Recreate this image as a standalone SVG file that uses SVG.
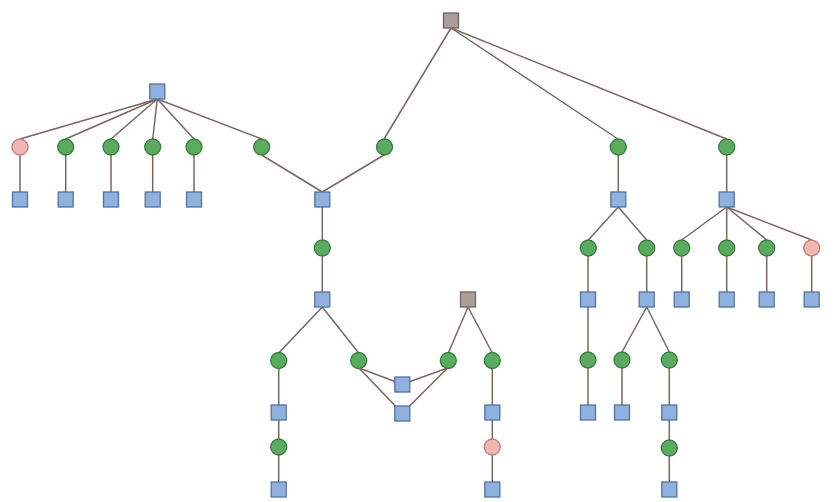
<svg xmlns="http://www.w3.org/2000/svg" width="834" height="502" viewBox="0 0 834 502">
<style>
.e{stroke:#7a6660;stroke-width:1.5;fill:none}
.sq{fill:#8eb1df;stroke:#56729a;stroke-width:1.3}
.gs{fill:#a89f9b;stroke:#6f6460;stroke-width:1.3}
.g{fill:#5aab5e;stroke:#3a7a40;stroke-width:1.3}
.p{fill:#f1b5b3;stroke:#b8807c;stroke-width:1.3}
</style>
<rect width="834" height="502" fill="#ffffff"/>
<g id="connectors">
<line class="e" x1="451" y1="28" x2="384" y2="139"/>
<line class="e" x1="451" y1="28" x2="618" y2="139"/>
<line class="e" x1="451" y1="28" x2="726.7" y2="139"/>
<line class="e" x1="157.3" y1="99" x2="20" y2="139"/>
<line class="e" x1="157.3" y1="99" x2="65.7" y2="139"/>
<line class="e" x1="157.3" y1="99" x2="111" y2="139"/>
<line class="e" x1="157.3" y1="99" x2="152.7" y2="139"/>
<line class="e" x1="157.3" y1="99" x2="194" y2="139"/>
<line class="e" x1="157.3" y1="99" x2="261.7" y2="139"/>
<line class="e" x1="20" y1="155" x2="20" y2="192"/>
<line class="e" x1="65.7" y1="155" x2="65.7" y2="192"/>
<line class="e" x1="111" y1="155" x2="111" y2="192"/>
<line class="e" x1="152.7" y1="155" x2="152.7" y2="192"/>
<line class="e" x1="194" y1="155" x2="194" y2="192"/>
<line class="e" x1="261.7" y1="155" x2="322.3" y2="192"/>
<line class="e" x1="384" y1="155" x2="322.3" y2="192"/>
<line class="e" x1="322.3" y1="207" x2="322.3" y2="240"/>
<line class="e" x1="322.3" y1="256" x2="322.3" y2="292"/>
<line class="e" x1="322.3" y1="307" x2="278.7" y2="353"/>
<line class="e" x1="322.3" y1="307" x2="358.7" y2="353"/>
<line class="e" x1="278.7" y1="369" x2="278.7" y2="405"/>
<line class="e" x1="278.7" y1="420" x2="278.7" y2="439"/>
<line class="e" x1="278.7" y1="455" x2="278.7" y2="482"/>
<line class="e" x1="359" y1="368" x2="402.3" y2="384.3"/>
<line class="e" x1="359" y1="368" x2="402.3" y2="413.3"/>
<line class="e" x1="447.7" y1="368" x2="402.3" y2="384.3"/>
<line class="e" x1="447.7" y1="368" x2="402.3" y2="413.3"/>
<line class="e" x1="468" y1="307" x2="448.3" y2="353"/>
<line class="e" x1="468" y1="307" x2="492.3" y2="353"/>
<line class="e" x1="492.3" y1="369" x2="492.3" y2="405"/>
<line class="e" x1="492.3" y1="420" x2="492.3" y2="439"/>
<line class="e" x1="492.3" y1="455" x2="492.3" y2="482"/>
<line class="e" x1="618.3" y1="155" x2="618.3" y2="192"/>
<line class="e" x1="618.3" y1="207" x2="588.3" y2="240"/>
<line class="e" x1="618.3" y1="207" x2="646.7" y2="240"/>
<line class="e" x1="588" y1="256" x2="588" y2="292"/>
<line class="e" x1="646.7" y1="256" x2="646.7" y2="292"/>
<line class="e" x1="588" y1="307" x2="588" y2="352"/>
<line class="e" x1="588" y1="368" x2="588" y2="405"/>
<line class="e" x1="646.7" y1="307" x2="622" y2="352"/>
<line class="e" x1="646.7" y1="307" x2="669.3" y2="352"/>
<line class="e" x1="622" y1="368" x2="622" y2="405"/>
<line class="e" x1="669.3" y1="368" x2="669.3" y2="405"/>
<line class="e" x1="669.3" y1="420" x2="669.3" y2="440"/>
<line class="e" x1="669.3" y1="456" x2="669.3" y2="482"/>
<line class="e" x1="726.7" y1="155" x2="726.7" y2="192"/>
<line class="e" x1="726.7" y1="207" x2="681.7" y2="240"/>
<line class="e" x1="726.7" y1="207" x2="726.7" y2="240"/>
<line class="e" x1="726.7" y1="207" x2="766.7" y2="240"/>
<line class="e" x1="726.7" y1="207" x2="811.7" y2="240"/>
<line class="e" x1="681.7" y1="256" x2="681.7" y2="292"/>
<line class="e" x1="726.7" y1="256" x2="726.7" y2="292"/>
<line class="e" x1="766.7" y1="256" x2="766.7" y2="292"/>
<line class="e" x1="811.7" y1="256" x2="811.7" y2="292"/>
</g>
<g id="n_root"><rect class="gs" x="443.5" y="13" width="15" height="15"/></g>
<g id="n_hub"><rect class="sq" x="149.8" y="84" width="15" height="15"/></g>
<g id="n_c1"><circle class="p" cx="20" cy="147" r="8"/></g>
<g id="n_c2"><circle class="g" cx="65.7" cy="147" r="8"/></g>
<g id="n_c3"><circle class="g" cx="111" cy="147" r="8"/></g>
<g id="n_c4"><circle class="g" cx="152.7" cy="147" r="8"/></g>
<g id="n_c5"><circle class="g" cx="194" cy="147" r="8"/></g>
<g id="n_c6"><circle class="g" cx="261.7" cy="147" r="8"/></g>
<g id="n_c7"><circle class="g" cx="384.5" cy="147" r="8"/></g>
<g id="n_c8"><circle class="g" cx="618.3" cy="147" r="8"/></g>
<g id="n_c9"><circle class="g" cx="726.7" cy="147" r="8"/></g>
<g id="n_s1"><rect class="sq" x="12.5" y="192" width="15" height="15"/></g>
<g id="n_s2"><rect class="sq" x="58.2" y="192" width="15" height="15"/></g>
<g id="n_s3"><rect class="sq" x="103.5" y="192" width="15" height="15"/></g>
<g id="n_s4"><rect class="sq" x="145.2" y="192" width="15" height="15"/></g>
<g id="n_s5"><rect class="sq" x="186.5" y="192" width="15" height="15"/></g>
<g id="n_s6"><rect class="sq" x="314.8" y="192" width="15" height="15"/></g>
<g id="n_s7"><rect class="sq" x="610.8" y="192" width="15" height="15"/></g>
<g id="n_s8"><rect class="sq" x="719.2" y="192" width="15" height="15"/></g>
<g id="n_c10"><circle class="g" cx="322.3" cy="248" r="8"/></g>
<g id="n_c11"><circle class="g" cx="588.3" cy="248" r="8"/></g>
<g id="n_c12"><circle class="g" cx="646.7" cy="248" r="8"/></g>
<g id="n_c13"><circle class="g" cx="681.7" cy="248" r="8"/></g>
<g id="n_c14"><circle class="g" cx="726.7" cy="248" r="8"/></g>
<g id="n_c15"><circle class="g" cx="766.7" cy="248" r="8"/></g>
<g id="n_c16"><circle class="p" cx="811.7" cy="248" r="8"/></g>
<g id="n_s9"><rect class="sq" x="314.8" y="292" width="15" height="15"/></g>
<g id="n_root2"><rect class="gs" x="460.5" y="292" width="15" height="15"/></g>
<g id="n_s10"><rect class="sq" x="580.5" y="292" width="15" height="15"/></g>
<g id="n_s11"><rect class="sq" x="639.2" y="292" width="15" height="15"/></g>
<g id="n_s12"><rect class="sq" x="674.2" y="292" width="15" height="15"/></g>
<g id="n_s13"><rect class="sq" x="719.2" y="292" width="15" height="15"/></g>
<g id="n_s14"><rect class="sq" x="759.2" y="292" width="15" height="15"/></g>
<g id="n_s15"><rect class="sq" x="804.2" y="292" width="15" height="15"/></g>
<g id="n_c17"><circle class="g" cx="278.7" cy="360.5" r="8"/></g>
<g id="n_c18"><circle class="g" cx="358.7" cy="360.5" r="8"/></g>
<g id="n_c19"><circle class="g" cx="448.3" cy="360.5" r="8"/></g>
<g id="n_c20"><circle class="g" cx="492.3" cy="360.5" r="8"/></g>
<g id="n_c21"><circle class="g" cx="588" cy="360" r="8"/></g>
<g id="n_c22"><circle class="g" cx="622" cy="360" r="8"/></g>
<g id="n_c23"><circle class="g" cx="669.3" cy="360" r="8"/></g>
<g id="n_s16"><rect class="sq" x="394.8" y="377" width="15" height="15"/></g>
<g id="n_s17"><rect class="sq" x="394.8" y="406" width="15" height="15"/></g>
<g id="n_s18"><rect class="sq" x="271.2" y="405" width="15" height="15"/></g>
<g id="n_s19"><rect class="sq" x="484.8" y="405" width="15" height="15"/></g>
<g id="n_s20"><rect class="sq" x="580.5" y="405" width="15" height="15"/></g>
<g id="n_s21"><rect class="sq" x="614.5" y="405" width="15" height="15"/></g>
<g id="n_s22"><rect class="sq" x="661.8" y="405" width="15" height="15"/></g>
<g id="n_c24"><circle class="g" cx="278.7" cy="447" r="8"/></g>
<g id="n_c25"><circle class="p" cx="492.3" cy="447" r="8"/></g>
<g id="n_c26"><circle class="g" cx="669.3" cy="448" r="8"/></g>
<g id="n_s23"><rect class="sq" x="271.2" y="482" width="15" height="15"/></g>
<g id="n_s24"><rect class="sq" x="484.8" y="482" width="15" height="15"/></g>
<g id="n_s25"><rect class="sq" x="661.8" y="482" width="15" height="15"/></g>
</svg>
